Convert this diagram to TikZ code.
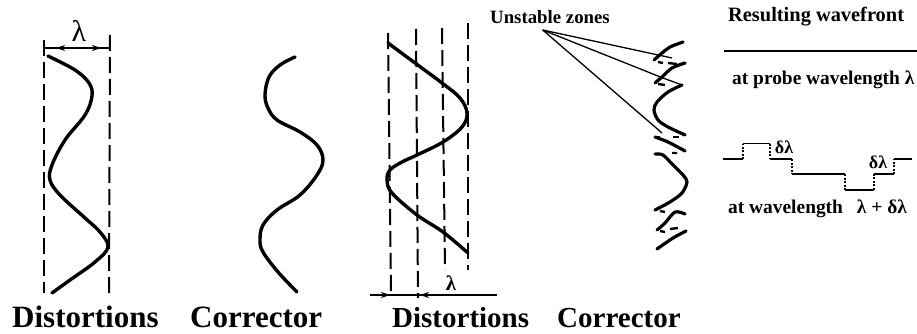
\documentclass[tikz,border=0pt]{standalone}
\usepackage{fontspec}
\setmainfont{Liberation Serif}
\usetikzlibrary{arrows.meta}
\tikzset{
  wave/.style={line width=3.4pt, line cap=round, line join=round},
  scrap/.style={line width=3.2pt, line cap=round, line join=round},
  gap/.style={line width=1.6pt},
  guide/.style={line width=2pt, dash pattern=on 16pt off 6pt},
  leader/.style={line width=1.3pt},
  step line/.style={line width=1.8pt},
  riser/.style={line width=1.8pt, dash pattern=on 2pt off 1.5pt},
  big/.style={font=\bfseries\fontsize{31}{31}\selectfont, anchor=base west, inner sep=0pt},
  small/.style={font=\bfseries\fontsize{19.4}{19.4}\selectfont, anchor=base west, inner sep=0pt}
}

\begin{document}
\begin{tikzpicture}[x=1pt, y=-1pt, >={Stealth[length=9pt, width=6pt]}]
      \useasboundingbox (0,0) rectangle (917,334);
      % left distortions
      \draw[guide] (44,40) -- (44,293);
      \draw[guide] (110,35) -- (109,293);
      \draw[gap] (44,48) -- (110,48);
      \draw[gap, <->] (56,48) -- (101,48);
      \draw[wave] plot[smooth, tension=.6] coordinates {(48,56) (75,70) (89,83) (92,96) (85,115) (65,140) (52,165) (50,180) (60,195) (85,218) (100,232) (108,247) (95,262) (70,280) (52,293)};
      \node (gapA) at (79,31) {\fontsize{30}{30}\selectfont λ};
      \node[big] (distA) at (12,327) {Distortions};
      % left corrector
      \draw[wave] plot[smooth, tension=.6] coordinates {(295,57) (280,65) (269,77) (265,95) (268,108) (277,120) (300,132) (317,145) (323,160) (317,175) (300,195) (277,210) (263,225) (260,240) (263,252) (278,272) (297,292)};
      \node[big] (corrA) at (190,327) {Corrector};
      % right distortions
      \draw[guide] (388,33) -- (391,293);
      \draw[guide] (416,29) -- (418,298);
      \draw[guide] (442,28) -- (445,270);
      \draw[guide] (468,23) -- (468,270);
      \draw[wave] plot[smooth, tension=.6] coordinates {(388,43) (415,63) (442,83) (460,98) (467,113) (462,127) (443,142) (417,155) (402,162) (390,170) (387,180) (392,193) (417,215) (443,232) (468,253)};
      \draw[gap] (370,295) -- (497,295);
      \draw[gap, ->] (370,295) -- (390,295);
      \draw[gap, ->] (440,295) -- (420,295);
      \node (gapB) at (451,283) {\bfseries\fontsize{21}{21}\selectfont λ};
      \node[big, font=\bfseries\fontsize{29}{29}\selectfont] (distB) at (392,327) {Distortions};
      \node[big, font=\bfseries\fontsize{29}{29}\selectfont] (corrB) at (557,327) {Corrector};
      % right corrector, broken up
      \draw[scrap] plot[smooth] coordinates {(683,42) (670,47) (662,53) (654,60)};
      \draw[scrap] plot[smooth] coordinates {(685,63) (672,68) (662,77) (655,83)};
      \draw[scrap] plot[smooth] coordinates {(682,85) (668,92) (657,102) (654,110) (658,120) (668,127) (685,135)};
      \draw[scrap] plot[smooth] coordinates {(655,137) (668,142) (685,151)};
      \draw[scrap] plot[smooth] coordinates {(655,154) (663,155) (673,165) (683,175) (687,182) (682,193) (670,202) (655,210)};
      \draw[scrap] plot[smooth] coordinates {(685,214) (675,212) (665,223) (657,230)};
      \draw[scrap] plot[smooth] coordinates {(686,231) (673,238) (657,249)};
      % torn ends
      \draw[line width=2.4pt] (658,62) -- (663,63) (668,63) -- (677,64) (658,84) -- (665,85);
      \draw[line width=2.4pt] (656,137) -- (660,137) (673,137) -- (679,137);
      \draw[line width=2.4pt] (672,153) -- (677,153) (660,211) -- (665,212) (660,231) -- (665,232) (670,229) -- (678,228);
      % leaders to the unstable zones
      \node[small, font=\bfseries\fontsize{18.8}{18.8}\selectfont] (zones) at (490,24) {Unstable zones};
      \coordinate (zoneTip) at (542.7,30);
      \coordinate (zoneA) at (672,58);
      \coordinate (zoneB) at (663,78);
      \coordinate (zoneC) at (662,133);
      \draw[leader] (zoneTip) -- (zoneA);
      \draw[leader] (zoneTip) -- (zoneB) -- (682,85);
      \draw[leader] (zoneTip) -- (zoneC);
      % resulting wavefront
      \node[small, font=\bfseries\fontsize{20.4}{20.4}\selectfont] (front) at (728,22) {Resulting wavefront};
      \draw[line width=2pt] (724,50.7) -- (917,50.7);
      \node[small] (probe) at (732,85) {at probe wavelength λ};
      % steps at the other wavelength
      \draw[step line] (723,159) -- (743,159) (743,143.5) -- (770,143.5) (770,159) -- (792,159) (792,174) -- (845,174) (845,189.7) -- (874,189.7) (874,174) -- (894,174) (894,159) -- (912,159);
      \draw[riser] (743,159) -- (743,143.5) (770,143.5) -- (770,159) (792,159) -- (792,174) (845,174) -- (845,189.7) (874,189.7) -- (874,174) (894,174) -- (894,159);
      \node (stepA) at (784,147) {\bfseries\fontsize{18}{18}\selectfont δλ};
      \node (stepB) at (878,162) {\bfseries\fontsize{18}{18}\selectfont δλ};
      \node[small] (other) at (728,213) {at wavelength\hspace{14pt}λ + δλ};
    \end{tikzpicture}
\end{document}
